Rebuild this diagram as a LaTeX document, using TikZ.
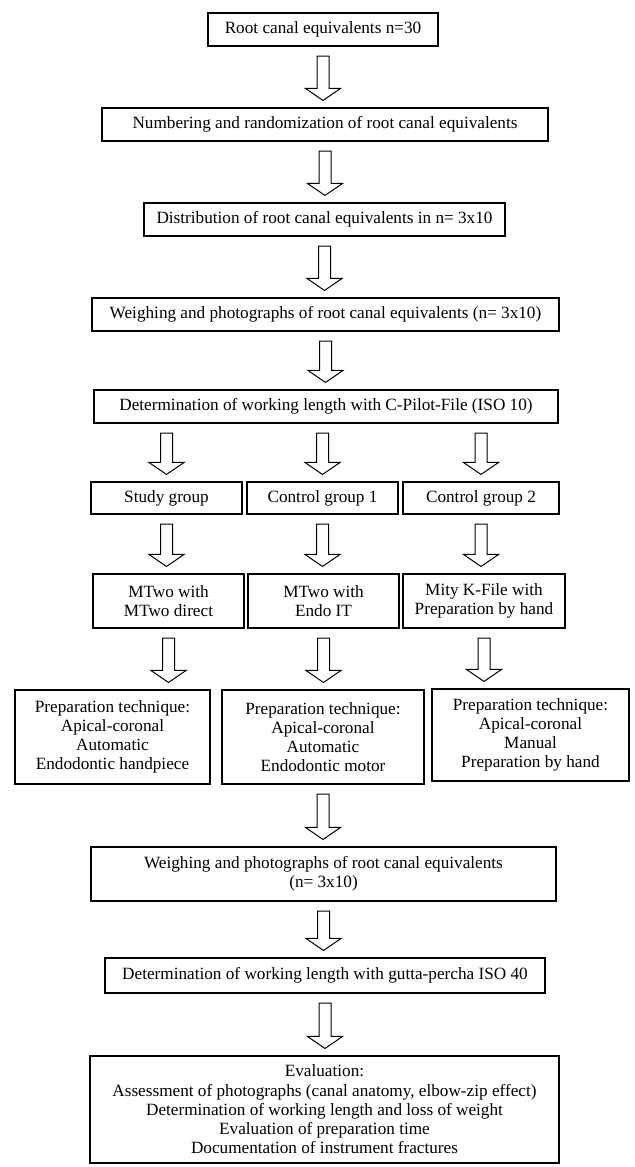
\documentclass[tikz,border=0pt]{standalone}
\usepackage{fontspec}
\setmainfont{Liberation Serif}
\usetikzlibrary{calc}

% hollow block arrow from box #1 down to box #2
\newcommand{\hollowdown}[2]{%
  \path (#1) ++(0,9.5) coordinate (ht) (#2) ++(0,-7) coordinate (hb);
  \draw[hollow] ($(ht)+(-6,0)$) -- ($(ht)+(6,0)$) -- ($(hb)+(6,-12)$)
    -- ($(hb)+(17.5,-12)$) -- (hb) -- ($(hb)+(-17.5,-12)$)
    -- ($(hb)+(-6,-12)$) -- cycle;}

\begin{document}
\begin{tikzpicture}[x=0.75pt,y=-0.75pt,
                    font=\fontsize{12.9}{14.4}\selectfont]
  \tikzstyle{stage}=[draw,line width=0.8pt,inner sep=0pt,align=center]
  \tikzstyle{boxsize}=[minimum width=#1*0.75pt]
  \tikzstyle{hollow}=[line width=0.75pt,line join=miter,fill=white]
  \useasboundingbox (0,0) rectangle (635,1167);

  \node[stage,boxsize=230,minimum height=24.75pt] (root) at (323,29.5)
    {Root canal equivalents n=30};
  \node[stage,boxsize=446,minimum height=24.75pt] (numb) at (325,124.5)
    {Numbering and randomization of root canal equivalents};
  \node[stage,boxsize=361,minimum height=24.75pt] (distr) at (324.5,219.5)
    {Distribution of root canal equivalents in n= 3x10};
  \node[stage,boxsize=467,minimum height=24.75pt] (weigh) at (325.5,314.5)
    {Weighing and photographs of root canal equivalents (n= 3x10)};
  \node[stage,boxsize=464,minimum height=24.75pt] (detC) at (326,406.5)
    {Determination of working length with C-Pilot-File (ISO 10)};

  % three groups
  \node[stage,boxsize=151,minimum height=24pt] (study) at (166.5,498) {Study group};
  \node[stage,boxsize=151,minimum height=24pt] (ctrl1) at (322.5,498) {Control group 1};
  \node[stage,boxsize=156,minimum height=24pt] (ctrl2) at (481,498) {Control group 2};

  \node[stage,boxsize=151,minimum height=40.5pt] (mtwo) at (168.5,601)
    {MTwo with\\MTwo direct};
  \node[stage,boxsize=151,minimum height=40.5pt] (endo) at (323.5,601)
    {MTwo with\\Endo IT};
  \node[stage,boxsize=162,minimum height=40.5pt] (mity) at (484,601)
    {Mity K-File with\\Preparation by hand};

  \node[stage,boxsize=195,minimum height=70.5pt] (prep1) at (112.5,737)
    {Preparation technique:\\Apical-coronal\\Automatic\\Endodontic handpiece};
  \node[stage,boxsize=202,minimum height=70.5pt] (prep2) at (323,737)
    {Preparation technique:\\Apical-coronal\\Automatic\\Endodontic motor};
  \node[stage,boxsize=197,minimum height=69pt] (prep3) at (530.5,735)
    {Preparation technique:\\Apical-coronal\\Manual\\Preparation by hand};

  \node[stage,boxsize=465,minimum height=40.5pt] (weigh2) at (323.5,874)
    {Weighing and photographs of root canal equivalents\\(n= 3x10)};
  \node[stage,boxsize=440,minimum height=26.25pt] (det2) at (325,975.5)
    {Determination of working length with gutta-percha ISO 40};
  \node[stage,boxsize=469,minimum height=80.25pt] (eval) at (324.5,1109.5)
    {Evaluation:\\Assessment of photographs (canal anatomy, elbow-zip effect)\\
     Determination of working length and loss of weight\\
     Evaluation of preparation time\\Documentation of instrument fractures};

  \hollowdown{root.south}{numb.north -| root.south}
  \hollowdown{numb.south}{distr.north -| numb.south}
  \hollowdown{distr.south}{weigh.north -| distr.south}
  \hollowdown{weigh.south}{detC.north -| weigh.south}
  \hollowdown{detC.south -| study.north}{study.north}
  \hollowdown{detC.south -| ctrl1.north}{ctrl1.north}
  \hollowdown{detC.south -| ctrl2.north}{ctrl2.north}
  \hollowdown{study.south}{mtwo.north -| study.south}
  \hollowdown{ctrl1.south}{endo.north -| ctrl1.south}
  \hollowdown{ctrl2.south}{mity.north -| ctrl2.south}
  \hollowdown{mtwo.south}{prep1.north -| mtwo.south}
  \hollowdown{endo.south}{prep2.north -| endo.south}
  \hollowdown{mity.south}{prep3.north -| mity.south}
  \hollowdown{prep2.south}{weigh2.north -| prep2.south}
  \hollowdown{weigh2.south}{det2.north -| weigh2.south}
  \hollowdown{det2.south}{eval.north -| det2.south}
\end{tikzpicture}
\end{document}
